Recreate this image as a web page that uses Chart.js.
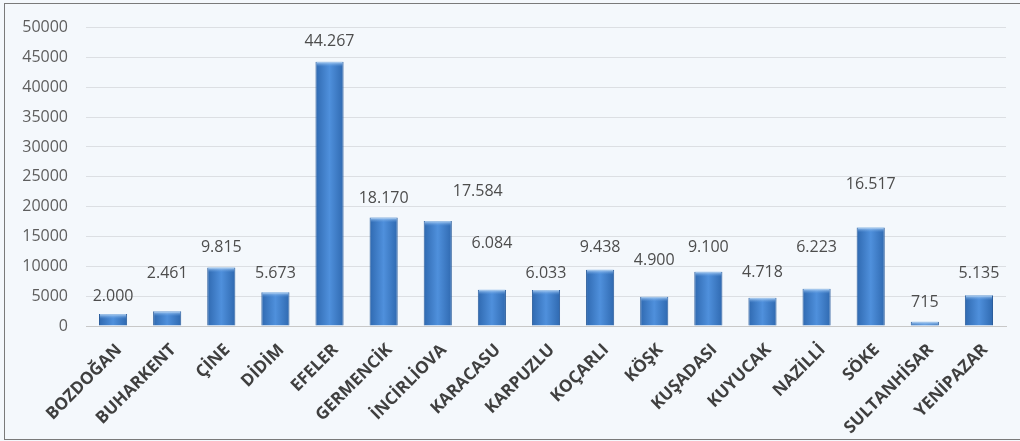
<!DOCTYPE html>
<html>
<head>
<meta charset="utf-8">
<script src="https://cdn.jsdelivr.net/npm/chart.js@4"></script>
<style>
	html, body { margin: 0; padding: 0; background: #f4f8fc; }
	#wrap { position: relative; width: 1020px; height: 441px; }
	#frame { position: absolute; left: 4px; top: 3px; width: 1020px; height: 435px; border: 1px solid #7a7a7a; border-right: none; pointer-events: none; }
</style>
</head>
<body>
<div id="wrap">
	<canvas id="chart-all" width="1020" height="441"></canvas>
	<div id="frame"></div>
</div>
<script>
const districts = ['BOZDOĞAN', 'BUHARKENT', 'ÇİNE', 'DİDİM', 'EFELER', 'GERMENCİK', 'İNCİRLİOVA', 'KARACASU', 'KARPUZLU', 'KOÇARLI', 'KÖŞK', 'KUŞADASI', 'KUYUCAK', 'NAZİLLİ', 'SÖKE', 'SULTANHİSAR', 'YENİPAZAR'];
const values = [2000, 2461, 9815, 5673, 44267, 18170, 17584, 6084, 6033, 9438, 4900, 9100, 4718, 6223, 16517, 715, 5135];
// how far each value label sits above its bar (px), as placed in the original
const labelRise = [18, 38, 20, 19, 20, 19, 30, 46, 17, 22, 36, 24, 25, 41, 43, 19, 22];
const labelShift = [0, 0, 0, 0, 0, 0, 40, 0, 0, 0, 0, 0, 0, 0, 0, 0, 0];

const fmt = v => String(v).replace(/\B(?=(\d{3})+(?!\d))/g, '.');
const barPct = 0.52;

const barFill = (ctx) => {
	const c = ctx.chart;
	const xs = c.scales.x;
	if (!xs || !c.chartArea) return '#4a86cf';
	const x = xs.getPixelForValue(ctx.dataIndex);
	const w = xs.width / districts.length * barPct / 2;
	const g = c.ctx.createLinearGradient(x - w, 0, x + w, 0);
	g.addColorStop(0, '#2f69b0');
	g.addColorStop(0.5, '#4f90dc');
	g.addColorStop(1, '#2f69b0');
	return g;
};

const valueLabels = {
	id: 'valueLabels',
	afterDatasetsDraw(chart) {
		const ctx = chart.ctx;
		const meta = chart.getDatasetMeta(0);
		ctx.save();
		meta.data.forEach((bar, i) => {
			// light bevel on top of each bar
			const half = bar.width / 2;
			const g = ctx.createLinearGradient(0, bar.y, 0, bar.y + 5);
			g.addColorStop(0, 'rgba(190,220,250,0.95)');
			g.addColorStop(1, 'rgba(90,150,220,0)');
			ctx.fillStyle = g;
			ctx.fillRect(bar.x - half + 1, bar.y, bar.width - 2, Math.min(5, bar.base - bar.y));

			ctx.font = '16px "Open Sans"';
			ctx.fillStyle = '#4d4d4d';
			ctx.textAlign = 'center';
			ctx.textBaseline = 'middle';
			ctx.fillText(fmt(values[i]), bar.x + labelShift[i], bar.y - labelRise[i]);
		});
		ctx.restore();
	}
};

const config = {
	type: 'bar',
	data: {
		labels: districts,
		datasets: [{
			data: values,
			backgroundColor: barFill,
			borderColor: '#2b5d9c',
			borderWidth: 1,
			barPercentage: barPct,
			categoryPercentage: 1,
		}]
	},
	options: {
		responsive: false,
		animation: false,
		layout: {
			padding: { top: 25, right: 14, left: 0, bottom: 0 }
		},
		plugins: {
			legend: { display: false },
			tooltip: { enabled: false },
		},
		scales: {
			x: {
				afterFit: s => { s.height = 115; },
				grid: { display: false, drawTicks: false },
				border: { color: '#c8c8c8' },
				ticks: {
					minRotation: 45,
					maxRotation: 45,
					autoSkip: false,
					padding: 14,
					labelOffset: 6,
					color: '#3f3f3f',
					font: { family: '"Open Sans"', size: 17, weight: 'bold' }
				}
			},
			y: {
				min: 0,
				max: 50000,
				afterFit: s => { s.width = 86; },
				grid: { color: '#dcdfe3', drawTicks: false },
				border: { display: false },
				ticks: {
					stepSize: 5000,
					padding: 18,
					color: '#5e5e5e',
					font: { family: '"Open Sans"', size: 16 },
					callback: v => String(v)
				}
			}
		}
	},
	plugins: [valueLabels]
};

document.addEventListener('DOMContentLoaded', () => {
	const ctx = document.getElementById('chart-all');
	const chartAll = new Chart(ctx, config);
});
</script>
</body>
</html>
